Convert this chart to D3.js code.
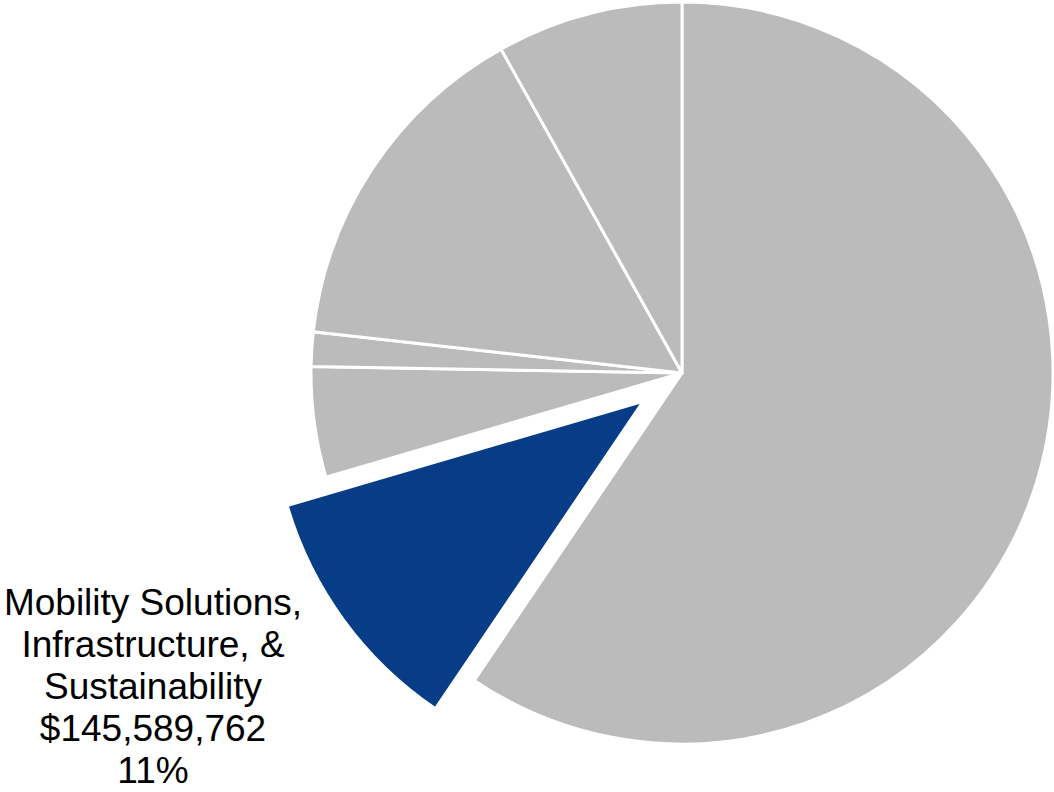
<!DOCTYPE html>
<html>
<head>
<meta charset="utf-8">
<script src="https://cdn.jsdelivr.net/npm/d3@7"></script>
<style>
  html, body { margin: 0; padding: 0; background: #ffffff; }
  svg { display: block; }
</style>
</head>
<body>
<svg id="chart" width="1054" height="792"></svg>
<script>
// Data (shares in percent; clockwise from 12 o'clock)
const categories = ["Segment 1", "Mobility Solutions, Infrastructure, & Sustainability", "Segment 3", "Segment 4", "Segment 5", "Segment 6"];
const shares = [59.4, 11.0, 4.8, 1.5, 15.1, 8.1];
const highlightIndex = 1;
const labelLines = ["Mobility Solutions,", "Infrastructure, &", "Sustainability", "$145,589,762", "11%"];

const svg = d3.select("#chart");
const cx = 682, cy = 373, radius = 371, explode = 48;

const pie = d3.pie().sort(null).value(d => d).startAngle(0).endAngle(2 * Math.PI);
const arcs = pie(shares);
const arcGen = d3.arc().innerRadius(0).outerRadius(radius);

const g = svg.append("g").attr("transform", `translate(${cx},${cy})`);

g.selectAll("path")
  .data(arcs)
  .join("path")
  .attr("d", arcGen)
  .attr("fill", (d, i) => i === highlightIndex ? "#073D87" : "#BBBBBB")
  .attr("stroke", "#ffffff")
  .attr("stroke-width", 3)
  .attr("stroke-linejoin", "round")
  .attr("transform", (d, i) => {
    if (i !== highlightIndex) return null;
    const a = (d.startAngle + d.endAngle) / 2;
    return `translate(${explode * Math.sin(a)},${-explode * Math.cos(a)})`;
  });

// Label for highlighted slice
const label = svg.append("text")
  .attr("x", 153)
  .attr("y", 615)
  .attr("text-anchor", "middle")
  .attr("font-family", "Liberation Sans, Arial, sans-serif")
  .attr("font-size", 37)
  .attr("fill", "#000000");

label.selectAll("tspan")
  .data(labelLines)
  .join("tspan")
  .attr("x", 153)
  .attr("dy", (d, i) => i === 0 ? 0 : 42)
  .text(d => d);
</script>
</body>
</html>
